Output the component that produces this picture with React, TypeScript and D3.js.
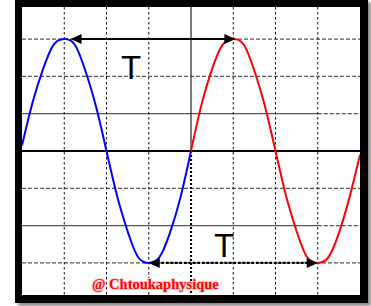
import * as d3 from 'd3';
import React from 'react';

// time in divisions, voltage in divisions
const blueT = [0, 0.25, 0.5, 0.75, 1, 1.25, 1.5, 1.75, 2, 2.25, 2.5, 2.75, 3, 3.25, 3.5, 3.75, 4];
const blueU = [0.15, 1.3, 2.2, 2.85, 3, 2.85, 2.15, 1.2, 0, -1.2, -2.15, -2.85, -3, -2.85, -2.2, -1.25, 0];
const redT = [4, 4.25, 4.5, 4.75, 5, 5.25, 5.5, 5.75, 6, 6.25, 6.5, 6.75, 7, 7.25, 7.5, 7.75, 8];
const redU = [0, 1.25, 2.2, 2.85, 3, 2.85, 2.15, 1.2, 0, -1.2, -2.15, -2.85, -3, -2.85, -2.2, -1.25, -0.1];

const vDivs = [1, 2, 3, 5, 6, 7];
const hDivs = [3, 2, 1, -1, -2, -3];
const solidH = [1, -2];

const topArrow = [1.15, 5.05];
const bottomArrow = [3, 7];
const periodLabel = 'T';
const watermark = '@ Chtoukaphysique';

export default function App() {
  const left = 22, right = 360, top = 7, bottom = 295;
  const x = d3.scaleLinear().domain([0, 8]).range([left, right]);
  const y = d3.scaleLinear().domain([-4, 4]).range([151 + 4 * 37.3, 151 - 4 * 37.3]);

  const line = d3.line<[number, number]>()
    .x(d => x(d[0]))
    .y(d => y(d[1]))
    .curve(d3.curveNatural);

  const blue = line(blueT.map((t, i) => [t, blueU[i]]));
  const red = line(redT.map((t, i) => [t, redU[i]]));

  const head = (tipX: number, tipY: number, dir: number) =>
    `M${tipX},${tipY} L${tipX - dir * 11},${tipY - 5} L${tipX - dir * 11},${tipY + 5} Z`;

  return (
    <div style={{ position: 'absolute', left: 0, top: 0 }}>
      <svg width={371} height={306} style={{ display: 'block' }}>
        <defs>
          <clipPath id="plot">
            <rect x={left} y={top} width={right - left} height={bottom - top} />
          </clipPath>
          <filter id="blur" x="-5%" y="-5%" width="110%" height="110%">
            <feGaussianBlur stdDeviation="1.5" />
          </filter>
        </defs>
        <rect x={18} y={2} width={353} height={304} fill="#8a8a8a" filter="url(#blur)" />
        <rect x={15} y={-2} width={353} height={305} fill="#000" />
        <rect x={left} y={top} width={right - left} height={bottom - top} fill="#fff" />

        <g clipPath="url(#plot)">
          {hDivs.map(d => (
            solidH.includes(d) ? (
              <g key={'h' + d}>
                <line x1={left} x2={x(7)} y1={y(d)} y2={y(d)} stroke="#555" strokeWidth={1.3} />
                <line x1={x(7)} x2={right} y1={y(d)} y2={y(d)} stroke="#555" strokeWidth={1.3} strokeDasharray="4,2" />
              </g>
            ) : (
              <line key={'h' + d} x1={left} x2={right} y1={y(d)} y2={y(d)} stroke="#555" strokeWidth={1.3} strokeDasharray="4,2" />
            )
          ))}
          {vDivs.map(d => (
            <line key={'v' + d} x1={x(d)} x2={x(d)} y1={top} y2={bottom} stroke="#111" strokeWidth={1} strokeDasharray="2.5,2.5" />
          ))}
          <line x1={x(4)} x2={x(4)} y1={top} y2={y(0)} stroke="#333" strokeWidth={1.3} />
          <line x1={x(4)} x2={x(4)} y1={y(0)} y2={bottom} stroke="#000" strokeWidth={2.2} strokeDasharray="2,2" />
          <line x1={left} x2={right} y1={y(0)} y2={y(0)} stroke="#000" strokeWidth={2} />

          <path d={blue ?? ''} fill="none" stroke="#0000ff" strokeWidth={2} />
          <path d={red ?? ''} fill="none" stroke="#ff0000" strokeWidth={2} />

          <line x1={x(topArrow[0]) + 8} x2={x(topArrow[1]) - 8} y1={y(3)} y2={y(3)} stroke="#000" strokeWidth={2} />
          <path d={head(x(topArrow[0]), y(3), -1)} fill="#000" />
          <path d={head(x(topArrow[1]), y(3), 1)} fill="#000" />

          <line x1={x(bottomArrow[0]) + 8} x2={x(bottomArrow[1]) - 8} y1={y(-3)} y2={y(-3)} stroke="#000" strokeWidth={2.2} strokeDasharray="3,1.5" />
          <path d={head(x(bottomArrow[0]), y(-3), -1)} fill="#000" />
          <path d={head(x(bottomArrow[1]), y(-3), 1)} fill="#000" />

          <text x={131} y={79} textAnchor="middle" fontFamily="Liberation Sans, Arial, sans-serif" fontSize={33} fill="#000">{periodLabel}</text>
          <text x={224} y={257} textAnchor="middle" fontFamily="Liberation Sans, Arial, sans-serif" fontSize={33} fill="#000">{periodLabel}</text>

          <text x={92} y={289} fontFamily="Liberation Serif, Times New Roman, serif" fontWeight="bold" fontSize={14.5}
            fill="#ff0000" stroke="#ffd0d0" strokeWidth={2} style={{ paintOrder: 'stroke' }}>{watermark}</text>
        </g>
      </svg>
    </div>
  );
}
